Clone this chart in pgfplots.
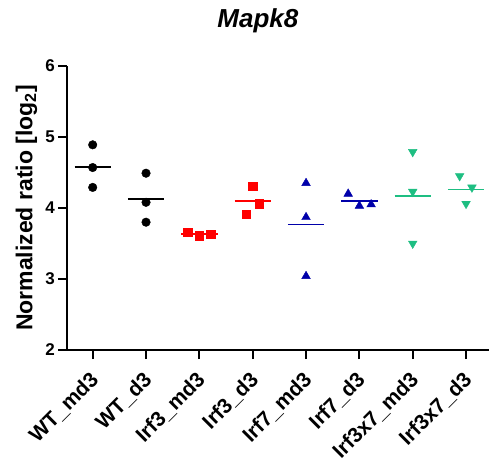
\documentclass[border=0pt]{standalone}
\usepackage{pgfplots}
\pgfplotsset{compat=1.18}
\usepackage{fontspec}
\setmainfont{Liberation Sans}
\definecolor{myblue}{RGB}{0,0,170}
\definecolor{mygreen}{RGB}{30,190,130}
\definecolor{myred}{RGB}{255,0,0}
\begin{document}
\begin{tikzpicture}
\begin{axis}[
  at={(67.3pt,113pt)}, anchor=south west,
  scale only axis, width=421.7pt, height=284pt,
  xmin=-0.476, xmax=7.43, ymin=2, ymax=6,
  axis x line*=bottom, axis y line*=left,
  axis line style={-, line width=2pt},
  xtick={0,1,2,3,4,5,6,7},
  xticklabels={WT\_md3,WT\_d3,Irf3\_md3,Irf3\_d3,Irf7\_md3,Irf7\_d3,Irf3x7\_md3,Irf3x7\_d3},
  x tick label style={rotate=45, anchor=north east, inner sep=1pt, xshift=-9.75pt, yshift=-4.25pt, font=\fontsize{21}{21}\selectfont\bfseries},
  ytick={2,3,4,5,6},
  y tick label style={font=\fontsize{17}{17}\selectfont\bfseries},
  /pgf/number format/assume math mode=true,
  tick align=outside, major tick length=9pt,
  tick style={line width=2pt, black},
  ylabel={Normalized ratio [log\textsubscript{2}]},
  ylabel style={at={(axis description cs:0,0.5)}, anchor=base, yshift=35pt, font=\fontsize{23}{23}\selectfont\bfseries},
  title={\textit{Mapk8}},
  title style={at={(axis description cs:0.452,1)}, anchor=base, yshift=33pt, font=\fontsize{26}{26}\selectfont\bfseries},
  clip=false,
]
% WT_md3
\addplot[only marks, mark=*, mark size=4.3pt, black] coordinates {(0,4.89) (0,4.57) (0,4.29)};
\addplot[black, line width=1.6pt] coordinates {(-0.34,4.58) (0.34,4.58)};
% WT_d3
\addplot[only marks, mark=*, mark size=4.3pt, black] coordinates {(1,4.49) (1,4.08) (1,3.80)};
\addplot[black, line width=1.6pt] coordinates {(0.66,4.13) (1.34,4.13)};
% Irf3_md3
\addplot[only marks, mark=square*, mark size=4.2pt, myred] coordinates {(1.78,3.66) (2,3.61) (2.21,3.63)};
\addplot[myred, line width=1.6pt] coordinates {(1.66,3.635) (2.34,3.635)};
% Irf3_d3
\addplot[only marks, mark=square*, mark size=4.2pt, myred] coordinates {(3,4.31) (3.12,4.06) (2.88,3.91)};
\addplot[myred, line width=1.6pt] coordinates {(2.66,4.10) (3.34,4.10)};
% Irf7_md3
\addplot[only marks, mark=triangle*, mark size=5pt, myblue] coordinates {(4,4.35) (4,3.87) (4,3.04)};
\addplot[myblue, line width=1.6pt] coordinates {(3.66,3.765) (4.34,3.765)};
% Irf7_d3
\addplot[only marks, mark=triangle*, mark size=5pt, myblue] coordinates {(4.79,4.20) (5,4.03) (5.22,4.05)};
\addplot[myblue, line width=1.6pt] coordinates {(4.66,4.10) (5.34,4.10)};
% Irf3x7_md3
\addplot[only marks, mark=triangle*, mark size=5pt, mark options={rotate=180}, mygreen] coordinates {(6,4.79) (6,4.23) (6,3.50)};
\addplot[mygreen, line width=1.6pt] coordinates {(5.66,4.17) (6.34,4.17)};
% Irf3x7_d3
\addplot[only marks, mark=triangle*, mark size=5pt, mark options={rotate=180}, mygreen] coordinates {(6.88,4.45) (7.11,4.29) (7,4.06)};
\addplot[mygreen, line width=1.6pt] coordinates {(6.66,4.26) (7.34,4.26)};
\end{axis}
\pgfresetboundingbox
\useasboundingbox (0,0) rectangle (489pt,463pt);
\end{tikzpicture}
\end{document}
